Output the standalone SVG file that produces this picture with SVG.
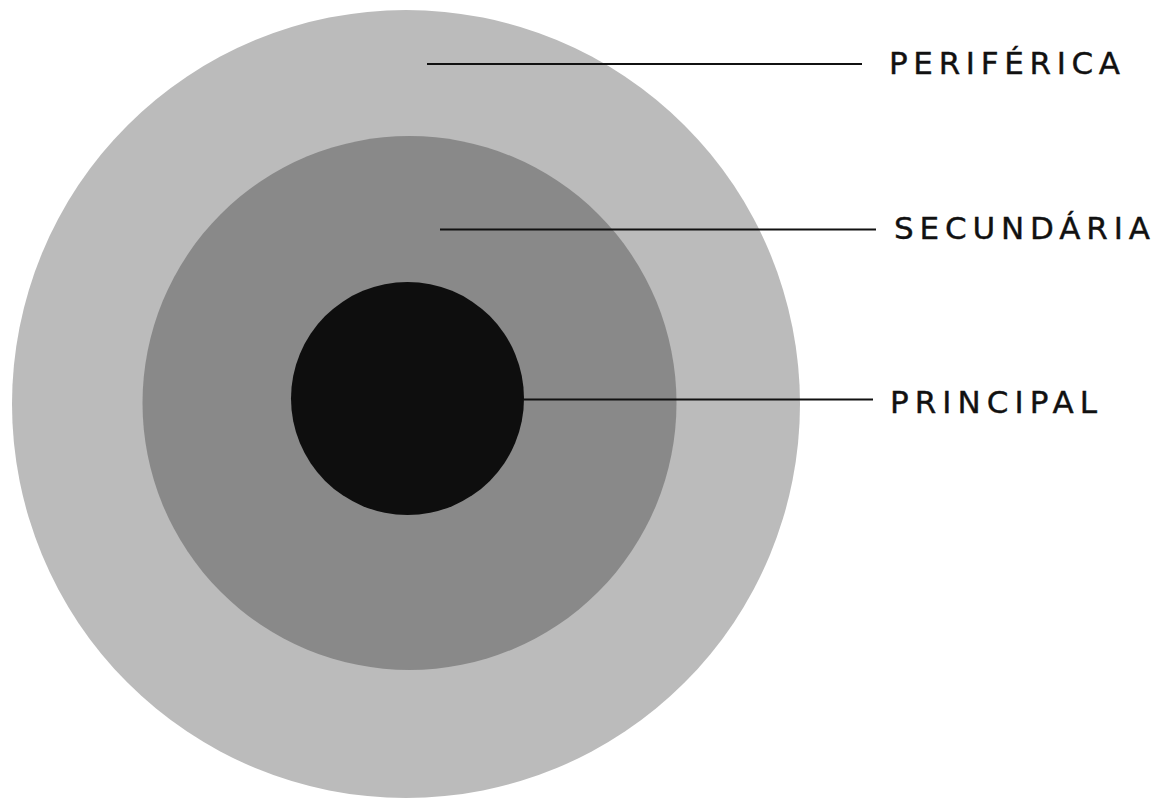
<svg xmlns="http://www.w3.org/2000/svg" width="1159" height="799" viewBox="0 0 1159 799">
  <style>
    .lbl { font-family: "DejaVu Sans", "Liberation Sans", Arial, sans-serif; font-size: 31px; fill: #111111; stroke: #111111; stroke-width: 0.4; }
    .conn { stroke: #111111; stroke-width: 2; fill: none; }
  </style>
  <rect x="0" y="0" width="1159" height="799" fill="#ffffff"/>
  <g id="periferica">
    <circle cx="406" cy="404" r="394" fill="#bbbbbb"/>
  </g>
  <g id="secundaria">
    <circle cx="409.5" cy="403" r="267" fill="#898989"/>
  </g>
  <g id="principal">
    <circle cx="407.5" cy="398.5" r="116.5" fill="#0e0e0e"/>
  </g>
  <g id="connectors">
    <line class="conn" x1="427" y1="64" x2="862" y2="64"/>
    <line class="conn" x1="440" y1="229.5" x2="876" y2="229.5"/>
    <line class="conn" x1="524" y1="399.5" x2="873" y2="399.5"/>
  </g>
  <g id="labels">
    <text class="lbl" x="889" y="73.5" textLength="231" lengthAdjust="spacing">PERIFÉRICA</text>
    <text class="lbl" x="894" y="238.5" textLength="256" lengthAdjust="spacing">SECUNDÁRIA</text>
    <text class="lbl" x="890" y="413" textLength="207" lengthAdjust="spacing">PRINCIPAL</text>
  </g>
</svg>
